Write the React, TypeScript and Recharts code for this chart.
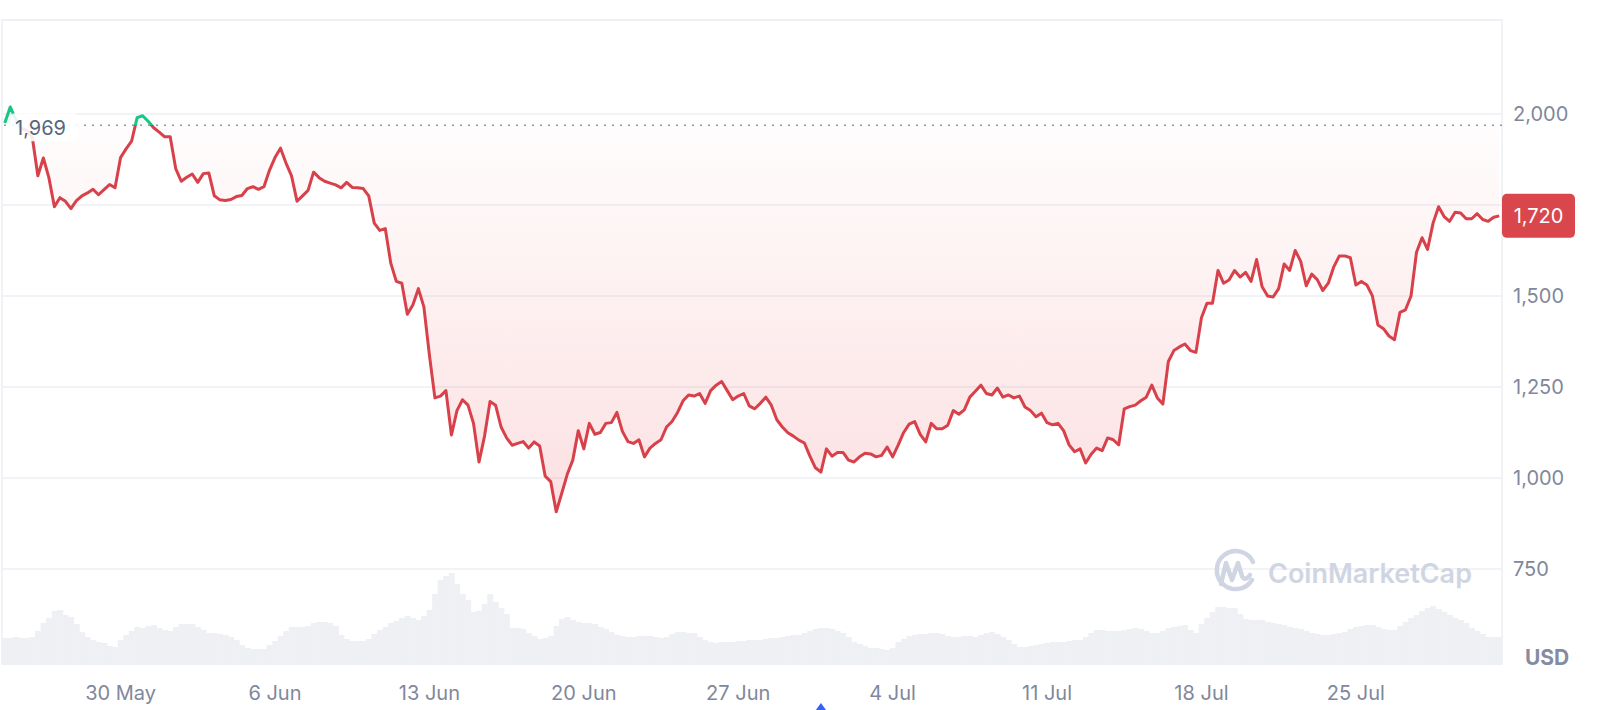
import React from "react";
import {
  ComposedChart, Area, Bar, XAxis, YAxis, CartesianGrid, ReferenceLine, ReferenceArea,
} from "recharts";

// ETH/USD, one point every 6 hours starting 24 May 18:00 UTC
const startTime = Date.UTC(2022, 4, 24, 18);
const stepHours = 6;

const price = [
  1975, 2019, 1985, 1960, 1955, 1935, 1830, 1879, 1825, 1745,
  1770, 1760, 1740, 1762, 1775, 1783, 1793, 1778, 1792, 1806,
  1797, 1880, 1904, 1925, 1990, 1995, 1980, 1962, 1950, 1937,
  1937, 1850, 1815, 1826, 1835, 1812, 1836, 1838, 1775, 1764,
  1762, 1765, 1773, 1776, 1795, 1800, 1793, 1800, 1845, 1880,
  1906, 1865, 1830, 1760, 1775, 1790, 1840, 1825, 1815, 1810,
  1805, 1797, 1812, 1798, 1797, 1795, 1775, 1700, 1680, 1685,
  1590, 1540, 1535, 1450, 1475, 1520, 1470, 1338, 1220, 1225,
  1240, 1118, 1185, 1215, 1200, 1150, 1044, 1115, 1210, 1200,
  1140, 1110, 1090, 1095, 1100, 1082, 1099, 1088, 1005, 990,
  907, 958, 1010, 1049, 1130, 1080, 1150, 1120, 1125, 1150,
  1152, 1180, 1128, 1100, 1095, 1105, 1058, 1082, 1095, 1105,
  1140, 1155, 1180, 1212, 1228, 1225, 1232, 1205, 1240, 1255,
  1265, 1240, 1215, 1225, 1232, 1198, 1190, 1205, 1222, 1200,
  1160, 1140, 1124, 1115, 1104, 1096, 1060, 1028, 1016, 1080,
  1060, 1070, 1070, 1049, 1044, 1058, 1068, 1066, 1058, 1062,
  1085, 1058, 1090, 1125, 1148, 1155, 1120, 1099, 1150, 1135,
  1135, 1145, 1185, 1175, 1187, 1222, 1238, 1255, 1232, 1228,
  1247, 1222, 1228, 1220, 1225, 1195, 1185, 1168, 1178, 1152,
  1146, 1150, 1130, 1091, 1072, 1080, 1041, 1065, 1082, 1075,
  1110, 1105, 1091, 1190, 1196, 1200, 1212, 1222, 1255, 1220,
  1203, 1320, 1350, 1360, 1368, 1350, 1345, 1440, 1480, 1480,
  1570, 1535, 1544, 1570, 1552, 1565, 1540, 1600, 1525, 1500,
  1497, 1520, 1588, 1570, 1625, 1595, 1528, 1560, 1545, 1515,
  1535, 1580, 1610, 1610, 1605, 1530, 1540, 1530, 1500, 1420,
  1410, 1390, 1380, 1455, 1462, 1500, 1620, 1660, 1628, 1700,
  1745, 1718, 1705, 1730, 1728, 1712, 1712, 1726, 1710, 1705,
  1716, 1720,
];

// trading volume, $100M
const volume = [
  26, 26, 27, 26, 26, 27, 33, 41, 46, 53,
  54, 49, 47, 40, 32, 27, 24, 22, 21, 18,
  17, 24, 29, 33, 37, 36, 38, 39, 36, 34,
  33, 37, 40, 40, 40, 37, 34, 31, 31, 30,
  29, 27, 24, 19, 16, 15, 15, 15, 19, 23,
  28, 33, 37, 37, 37, 38, 41, 42, 42, 41,
  38, 29, 25, 23, 23, 23, 25, 30, 34, 37,
  41, 43, 46, 48, 46, 44, 48, 54, 70, 84,
  88, 91, 80, 70, 64, 52, 53, 60, 70, 62,
  56, 50, 36, 36, 35, 31, 28, 25, 26, 28,
  38, 45, 47, 44, 42, 41, 41, 40, 37, 35,
  32, 29, 28, 27, 27, 28, 28, 28, 27, 26,
  27, 30, 32, 32, 31, 31, 27, 24, 22, 21,
  22, 22, 22, 23, 23, 24, 24, 24, 25, 26,
  26, 27, 28, 29, 29, 31, 33, 35, 36, 36,
  35, 33, 31, 27, 22, 20, 18, 16, 16, 15,
  14, 16, 22, 25, 28, 29, 30, 30, 31, 31,
  30, 28, 27, 27, 28, 28, 27, 29, 31, 32,
  30, 27, 24, 20, 17, 17, 18, 19, 20, 21,
  22, 22, 22, 23, 24, 24, 27, 31, 34, 34,
  33, 33, 33, 34, 35, 36, 35, 33, 31, 31,
  33, 36, 37, 38, 39, 34, 31, 40, 46, 52,
  57, 57, 56, 56, 50, 45, 44, 44, 44, 42,
  41, 40, 39, 37, 36, 35, 33, 31, 30, 29,
  29, 30, 31, 32, 35, 37, 38, 39, 39, 37,
  35, 34, 34, 38, 42, 46, 49, 53, 56, 58,
  55, 52, 49, 46, 44, 41, 36, 33, 30, 27,
  27, 27,
];

const monthNames = ["Jan", "Feb", "Mar", "Apr", "May", "Jun", "Jul", "Aug", "Sep", "Oct", "Nov", "Dec"];
const tickLabels = ["30 May", "6 Jun", "13 Jun", "20 Jun", "27 Jun", "4 Jul", "11 Jul", "18 Jul", "25 Jul"];
const yTicks = [750, 1000, 1250, 1500, 1750, 2000];
const baseline = 1969;
const eventTime = Date.UTC(2022, 5, 30, 18);

const RED = "#d8404a";
const GREEN = "#16c784";
const AXIS_TEXT = "#7f889b";
const GRID = "#eceff3";
const FONT = "Inter, sans-serif";

const dayLabel = (ms: number) => {
  const d = new Date(ms);
  return `${d.getUTCDate()} ${monthNames[d.getUTCMonth()]}`;
};

const rows = price.map((p, i) => ({
  t: i,
  time: startTime + i * stepHours * 3600e3,
  price: p,
  vol: volume[i],
}));

const xTicks = rows
  .filter((r) => new Date(r.time).getUTCHours() === 0 && tickLabels.includes(dayLabel(r.time)))
  .map((r) => r.t);
const eventIdx = rows.findIndex((r) => r.time === eventTime);

const last = price[price.length - 1];
const pMax = Math.max(...price);
const pMin = Math.min(...price);
const split = (pMax - baseline) / (pMax - pMin);
const fmt = (v: number) => v.toLocaleString("en-US");

function BaselineLabel({ viewBox }: any) {
  const { x, y } = viewBox;
  return (
    <g>
      <rect x={x + 9} y={y - 12} width={67} height={28} rx={4} fill="#fff" fillOpacity={0.88} />
      <text x={x + 13} y={y + 3} dy="0.355em" fontSize={20} fontFamily={FONT} fill="#58667e">
        {fmt(baseline)}
      </text>
    </g>
  );
}

function PriceBadge({ viewBox }: any) {
  const { x, y, width } = viewBox;
  const left = x + width;
  return (
    <g>
      <rect x={left} y={y - 22} width={73} height={44} rx={5} fill="#d9474c" />
      <text x={left + 36.5} y={y} dy="0.355em" textAnchor="middle" fontSize={20} fontFamily={FONT} fill="#fff">
        {fmt(last)}
      </text>
    </g>
  );
}

function EventMarker({ viewBox }: any) {
  const { x, y, height } = viewBox;
  const top = y + height + 39;
  return <path d={`M${x} ${top} L${x + 8} ${top + 11} L${x - 8} ${top + 11} Z`} fill="#3861fb" />;
}

export default function App() {
  return (
    <div style={{ position: "absolute", left: 0, top: 0, width: 1600, height: 710, background: "#fff" }}>
      <ComposedChart
        width={1600}
        height={710}
        data={rows}
        margin={{ top: 20, right: 0, bottom: 0, left: 2 }}
        barCategoryGap={0}
      >
        <defs>
          <linearGradient id="lineGrad" x1="0" y1="0" x2="0" y2="1">
            <stop offset={0} stopColor={GREEN} />
            <stop offset={split} stopColor={GREEN} />
            <stop offset={split} stopColor={RED} />
            <stop offset={1} stopColor={RED} />
          </linearGradient>
          <linearGradient id="fillGrad" x1="0" y1="0" x2="0" y2="1">
            <stop offset={0} stopColor={GREEN} stopOpacity={0.2} />
            <stop offset={split} stopColor={GREEN} stopOpacity={0.05} />
            <stop offset={split} stopColor="#ea3943" stopOpacity={0.02} />
            <stop offset={1} stopColor="#ea3943" stopOpacity={0.26} />
          </linearGradient>
        </defs>
        <CartesianGrid vertical={false} stroke={GRID} strokeWidth={1.5} />
        <XAxis
          dataKey="t"
          type="category"
          ticks={xTicks}
          interval={0}
          tickFormatter={(i) => dayLabel(rows[i].time)}
          axisLine={false}
          tickLine={false}
          tickSize={0}
          tickMargin={22}
          height={46}
          tick={{ fontSize: 20, fill: AXIS_TEXT, fontFamily: FONT }}
        />
        <YAxis
          orientation="right"
          domain={[489, 2258]}
          ticks={yTicks}
          allowDataOverflow
          tickFormatter={(v) => (Math.abs(v - last) < 60 ? "" : fmt(v))}
          axisLine={false}
          tickLine={false}
          tickSize={0}
          tickMargin={11}
          width={98}
          tick={{ fontSize: 20, fill: AXIS_TEXT, fontFamily: FONT }}
        />
        <YAxis yAxisId="vol" hide domain={[0, 644]} />
        <ReferenceArea y1={2258} y2={489} fill="none" stroke={GRID} strokeWidth={1.5} />
        <Bar yAxisId="vol" dataKey="vol" fill="#eef0f4" isAnimationActive={false} />
        <Area
          type="linear"
          dataKey="price"
          baseValue={baseline}
          stroke="url(#lineGrad)"
          strokeWidth={3}
          strokeLinejoin="round"
          fill="url(#fillGrad)"
          dot={false}
          activeDot={false}
          isAnimationActive={false}
        />
        <ReferenceLine y={baseline} stroke="#9299a6" strokeWidth={1.5} strokeDasharray="2 6" label={<BaselineLabel />} />
        <ReferenceLine y={last} stroke="none" label={<PriceBadge />} />
        {eventIdx >= 0 && <ReferenceLine x={eventIdx} stroke="none" label={<EventMarker />} />}
      </ComposedChart>
      <svg
        width={1600}
        height={710}
        style={{ position: "absolute", left: 0, top: 0, pointerEvents: "none" }}
      >
        <g fill="none" stroke="#cfd5e2" strokeWidth={4.5} strokeLinecap="round" strokeLinejoin="round">
          <path d="M1252 580 A19 19 0 1 1 1253 562" />
          <path d="M1221 584 L1226 563 L1232 580 L1238 563 L1242 576 Q1245 582 1250 575" />
        </g>
        <text x={1268} y={583} fontSize={27} fontWeight={600} fontFamily={FONT} fill="#cfd5e2">
          CoinMarketCap
        </text>
        <text x={1525} y={665} fontSize={21} fontWeight={700} fontFamily={FONT} fill="#858ca2">
          USD
        </text>
      </svg>
    </div>
  );
}
